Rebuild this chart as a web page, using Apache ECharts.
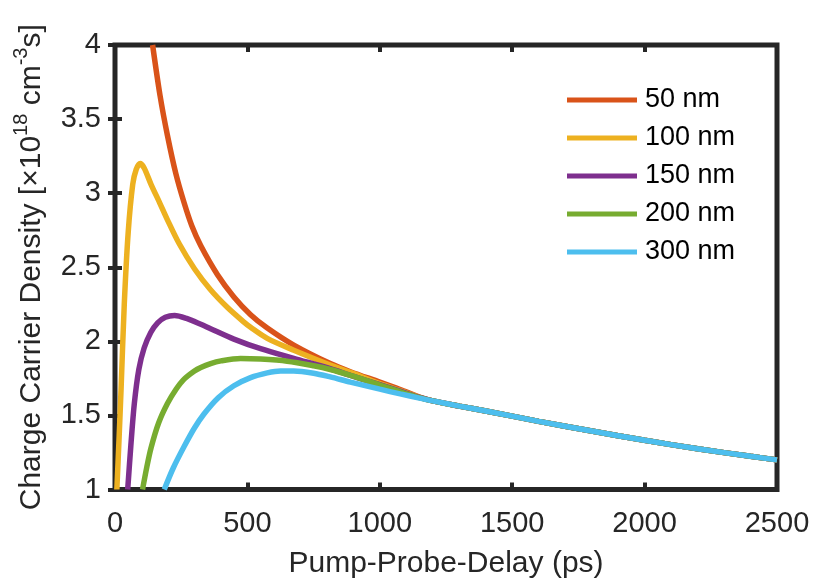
<!DOCTYPE html>
<html>
<head>
<meta charset="utf-8">
<script src="https://cdn.jsdelivr.net/npm/echarts@6/dist/echarts.min.js"></script>
<style>
html,body{margin:0;padding:0;background:#fff;}
#chart{width:815px;height:581px;}
</style>
</head>
<body>
<div id="chart"></div>
<script>
// ---- data ----
const seriesNames = ['50 nm', '100 nm', '150 nm', '200 nm', '300 nm'];
const seriesColors = ['#D95319', '#EDB120', '#7E2F8E', '#77AC30', '#4DBEEE'];

const delay50 = [142, 170, 198, 230, 261, 290, 324, 387, 449, 512, 575, 675, 813, 889, 1000, 1077, 1150];
const density50 = [4.0, 3.66, 3.39, 3.13, 2.935, 2.78, 2.645, 2.45, 2.30, 2.18, 2.09, 1.975, 1.85, 1.795, 1.725, 1.675, 1.624];

const delay100 = [7, 15, 23, 35, 50, 67, 80, 95, 110, 136, 170, 198, 242, 300, 360, 424, 487, 512, 575, 675, 813, 889, 1000, 1077, 1150];
const density100 = [1.0, 1.33, 1.68, 2.25, 2.74, 3.06, 3.16, 3.20, 3.17, 3.06, 2.93, 2.82, 2.66, 2.49, 2.35, 2.23, 2.13, 2.095, 2.02, 1.94, 1.84, 1.79, 1.715, 1.667, 1.622];

const delay150 = [48, 60, 73, 90, 110, 135, 161, 190, 225, 270, 324, 361, 449, 550, 675, 813, 889, 1000, 1077, 1150];
const density150 = [1.0, 1.3, 1.58, 1.81, 1.955, 2.06, 2.125, 2.163, 2.175, 2.155, 2.115, 2.085, 2.015, 1.95, 1.885, 1.815, 1.77, 1.708, 1.664, 1.621];

const delay200 = [104, 120, 136, 165, 198, 230, 261, 300, 324, 361, 400, 474, 550, 650, 750, 813, 889, 1000, 1077, 1150];
const density200 = [1.0, 1.15, 1.28, 1.45, 1.58, 1.675, 1.745, 1.80, 1.824, 1.85, 1.868, 1.884, 1.88, 1.866, 1.835, 1.81, 1.77, 1.705, 1.66, 1.62];

const delay300 = [186, 220, 261, 300, 336, 390, 449, 512, 575, 625, 675, 750, 813, 889, 1000, 1077, 1150];
const density300 = [1.0, 1.145, 1.29, 1.415, 1.51, 1.62, 1.70, 1.755, 1.787, 1.80, 1.80, 1.785, 1.76, 1.725, 1.677, 1.645, 1.617];

// common tail shared by all curves
const tailDelay = [1200, 1300, 1400, 1600, 1800, 2000, 2200, 2400, 2500];
const tailDensity = [1.598, 1.563, 1.53, 1.46, 1.395, 1.332, 1.275, 1.224, 1.20];

const xTicks = { min: 0, max: 2500, interval: 500 };
const yTicks = { min: 1, max: 4, interval: 0.5 };

// ---- build ----
const allDelays = [delay50, delay100, delay150, delay200, delay300];
const allDensities = [density50, density100, density150, density200, density300];

function pairs(xs, ys) {
  const out = xs.map((x, i) => [x, ys[i]]);
  tailDelay.forEach((x, i) => out.push([x, tailDensity[i]]));
  return out;
}

const FONT = "'Liberation Sans', Arial, Helvetica, sans-serif";
const INK = '#262626';

const chart = echarts.init(document.getElementById('chart'), null, { renderer: 'canvas' });

const tick = { show: true, inside: true, length: 7, lineStyle: { color: INK, width: 4 } };
const axisCommonX = {
  type: 'value', min: xTicks.min, max: xTicks.max, interval: xTicks.interval,
  axisLine: { show: false }, axisTick: tick, splitLine: { show: false }
};
const axisCommonY = {
  type: 'value', min: yTicks.min, max: yTicks.max, interval: yTicks.interval,
  axisLine: { show: false }, axisTick: tick, splitLine: { show: false }
};

chart.setOption({
  animation: false,
  backgroundColor: '#fff',
  grid: {
    left: 115, right: 38, top: 45, bottom: 91.5,
    containLabel: false, outerBoundsMode: 'none',
    show: true, borderColor: INK, borderWidth: 5, backgroundColor: 'transparent'
  },
  legend: {
    orient: 'vertical', left: 567, top: 86, padding: 0,
    icon: 'rect', itemWidth: 70, itemHeight: 5, itemGap: 10,
    textStyle: { fontFamily: FONT, fontSize: 27, color: '#000', lineHeight: 28, padding: [0, 0, 0, 3] },
    data: seriesNames
  },
  xAxis: [
    Object.assign({}, axisCommonX, {
      position: 'bottom',
      axisLabel: { fontFamily: FONT, fontSize: 29, color: INK, margin: 20, formatter: v => String(v) },
      name: 'Pump-Probe-Delay (ps)', nameLocation: 'middle', nameGap: 59,
      nameTextStyle: { fontFamily: FONT, fontSize: 30, color: INK }
    }),
    Object.assign({}, axisCommonX, { position: 'top', axisLabel: { show: false } })
  ],
  yAxis: [
    Object.assign({}, axisCommonY, {
      position: 'left',
      axisLabel: { fontFamily: FONT, fontSize: 29, color: INK, margin: 14, formatter: v => String(v) },
      name: '{n|Charge Carrier Density [\u00d710}{s|18}{n| cm}{s|-3}{n|s]}',
      nameLocation: 'middle', nameGap: 68,
      nameTextStyle: {
        fontFamily: FONT, fontSize: 30, color: INK,
        rich: {
          n: { fontFamily: FONT, fontSize: 30, color: INK, verticalAlign: 'bottom' },
          s: { fontFamily: FONT, fontSize: 20, color: INK, verticalAlign: 'top', padding: [0, 0, 16, 0] }
        }
      }
    }),
    Object.assign({}, axisCommonY, { position: 'right', axisLabel: { show: false } })
  ],
  series: seriesNames.map((name, i) => ({
    name: name,
    type: 'line',
    xAxisIndex: 0, yAxisIndex: 0,
    data: pairs(allDelays[i], allDensities[i]),
    smooth: 0.3,
    symbol: 'none',
    clip: true,
    color: seriesColors[i],
    lineStyle: { width: 5.5, color: seriesColors[i] },
    z: 2 + i
  }))
});
</script>
</body>
</html>
